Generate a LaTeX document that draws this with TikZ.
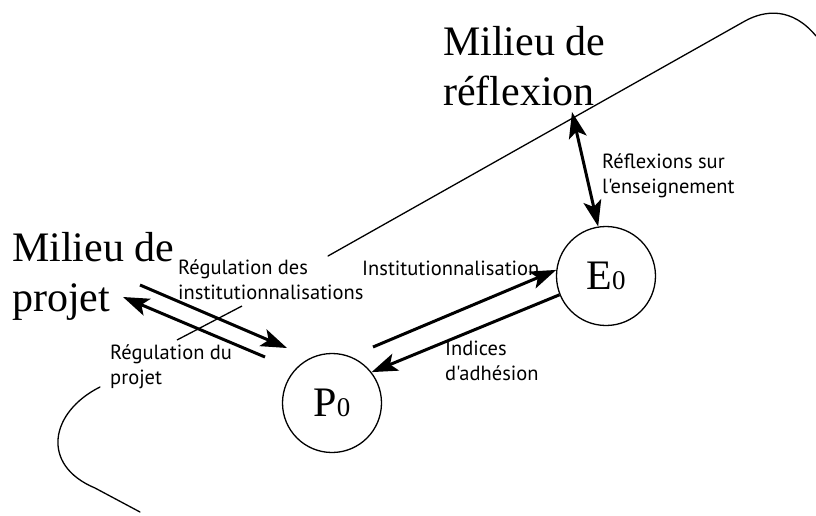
\documentclass[tikz,border=0pt]{standalone}
\usepackage{fontspec}
\setmainfont{Liberation Serif}
\newfontfamily\labelfont{PT Sans}
\usetikzlibrary{arrows.meta}
\tikzset{pointe/.tip={Stealth[length=26pt,width=18pt,inset=6pt]}}
\begin{document}
\begin{tikzpicture}[x=1pt,y=-1pt,line join=round]
    \def\fin{1.3pt}
    \def\epais{3pt}
    \tikzset{
        milieu/.style={anchor=base west,inner sep=0pt,align=left,font=\fontsize{42}{50}\selectfont},
        etat/.style={circle,draw,line width=\fin,minimum size=99pt,inner sep=0pt,font=\fontsize{42}{50}\selectfont},
        petit/.style={anchor=base west,inner sep=0pt,align=left,font=\labelfont\fontsize{20.5}{25}\selectfont},
        flux/.style={line width=\epais,-pointe},
    }
    \useasboundingbox (0,0) rectangle (816,515);
    % frontieres des milieux
    \draw[line width=\fin,line cap=round] (328,256) -- (745,21) .. controls (765,10) and (792,7) .. (816,36);
    \draw[line width=\fin,line cap=round] (100,387) .. controls (50,412) and (40,465) .. (95,488) -- (140,512);
    % milieux (base = derniere ligne)
    \node[milieu] (mr) at (443,105) {Milieu de\\réflexion};
    \node[milieu] (mp) at (12,311) {Milieu de\\projet};
    % etats
    \node[etat] (P0) at (332,403) {P{\fontsize{27}{30}\selectfont0}};
    \node[etat] (E0) at (606,276) {E{\fontsize{27}{30}\selectfont0}};
    % etiquettes
    \node[petit] (rdi) at (178,299) {Régulation des\\institutionnalisations};
    \node[petit] (rdp) at (110,384) {Régulation du\\projet};
    \node[petit] (inst) at (362,275) {Institutionnalisation};
    \node[petit] (ind) at (445,380) {Indices\\d'adhésion};
    \node[petit] (rse) at (602,193) {Réflexions sur\\l'enseignement};
    % extremites libres
    \coordinate (rf) at (572,112);
    \coordinate (ia) at (373,347);
    \coordinate (ra) at (140,285);
    \coordinate (rb) at (287,348);
    \coordinate (pa) at (265,357);
    \coordinate (pb) at (123,297);
    \coordinate (la) at (177,340);
    \coordinate (lb) at (242,306);
    % fleches
    \draw[flux,pointe-pointe] (rf) -- (E0.99);
    \draw[flux] (ia) -- (E0.173);
    \draw[flux] (E0.202) -- (P0.38);
    \draw[flux] (ra) -- (rb);
    \draw[flux] (pa) -- (pb);
    \draw[line width=\fin] (la) -- (lb);
\end{tikzpicture}
\end{document}
